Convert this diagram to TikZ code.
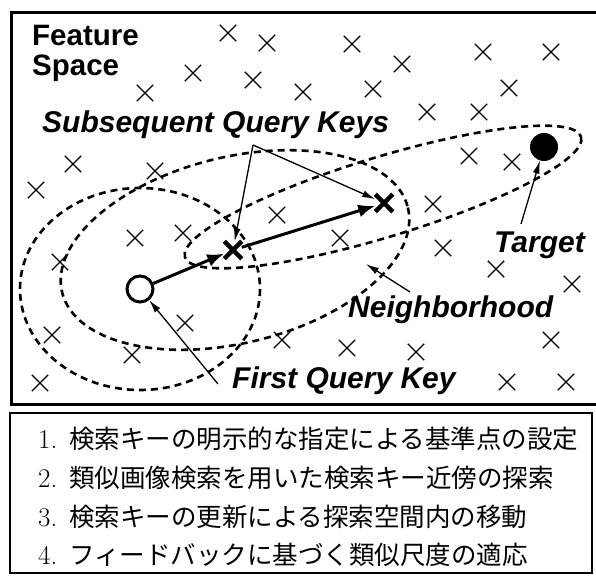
\documentclass[tikz,border=0pt]{standalone}
\usepackage{fontspec}
\usetikzlibrary{arrows.meta,shapes.misc}
\newfontfamily\labfont{Liberation Sans}
\newfontfamily\jpfont{Noto Sans CJK JP}
\begin{document}
\begin{tikzpicture}[x=1pt,y=-1pt,
  pt/.style={cross out,draw,line width=1.3pt,minimum size=15pt,inner sep=0pt},
  keymark/.style={cross out,draw,line width=4.5pt,minimum size=13pt,inner sep=0pt},
  nb/.style={draw,line width=2.6pt,dash pattern=on 7pt off 5pt},
  lab/.style={font=\labfont\bfseries\itshape\fontsize{30}{33}\selectfont,inner sep=0pt,anchor=base west},
  labup/.style={font=\labfont\bfseries\fontsize{29.5}{32}\selectfont,inner sep=0pt,anchor=base west},
  bigarrow/.style={line width=3pt,-{Latex[length=17pt,width=13pt]}},
  thinarrow/.style={line width=1.3pt,-{Latex[length=13pt,width=7pt]}},
  num/.style={font=\fontsize{27}{30}\selectfont,inner sep=0pt,anchor=base west},
  jtext/.style={font=\jpfont\fontsize{25.5}{28}\selectfont,inner sep=0pt,anchor=base west}]
\useasboundingbox (0,0) rectangle (596,577);
% frames
\draw[line width=3pt] (11,13) rectangle (599,404);
\draw[line width=2.5pt] (10,413) rectangle (592,573);
% scattered points
\foreach \a/\b [count=\i] in {228/33,267/43,193/73,253/80,145/93,73/164,155/171,36/190,
  352/44,402/64,483/52,551/52,303/92,373/89,509/88,427/112,479/112,469/156,512/162,433/204,
  277/215,135/238,183/233,60/262,185/323,52/335,282/340,132/355,40/383,
  340/238,443/248,496/269,572/284,551/340,347/348,416/352,507/382,566/382}
  \node[pt] (x\i) at (\a,\b) {};
% neighborhoods
\draw[nb] (140,289) ellipse [x radius=120, y radius=101];
\draw[nb, rotate around={13.8:(235,250)}] (235,250) ellipse [x radius=178, y radius=93];
\draw[nb, rotate around={16.9:(383,197)}] (383,197) ellipse [x radius=207, y radius=40];
% keys
\node[circle,draw,line width=3pt,minimum size=26pt,inner sep=0pt,fill=white] (q0) at (140,289) {};
\node[keymark] (q1) at (233,250) {};
\node[keymark] (q2) at (384,203) {};
\node[circle,fill=black,minimum size=28pt,inner sep=0pt] (tg) at (544,147) {};
% labels
\node[labup] (fs1) at (32,46) {Feature};
\node[labup] (fs2) at (32,76) {Space};
\node[lab] (sqk) at (42,133) {Subsequent Query Keys};
\node[lab] (tl) at (494,252) {Target};
\node[lab] (nl) at (348,317) {Neighborhood};
\node[lab] (fq) at (232,388) {First Query Key};
% connectors
\draw[bigarrow] (q0) -- (q1);
\draw[bigarrow] (q1) -- (q2);
\coordinate (apex) at (253,145);
\draw[thinarrow] (apex) -- (q1);
\draw[thinarrow] (apex) -- (q2);
\coordinate (ta) at (521,224);
\draw[thinarrow] (ta) -- (tg);
\coordinate (na) at (410,292);
\coordinate (nb) at (366,264);
\draw[thinarrow] (na) -- (nb);
\coordinate (fa) at (218,384);
\draw[thinarrow] (fa) -- (q0);
% list
\node[num] (n1) at (38,448) {1.};
\node[jtext] (j1) at (69,448) {検索キーの明示的な指定による基準点の設定};
\node[num] (n2) at (38,487) {2.};
\node[jtext] (j2) at (69,487) {類似画像検索を用いた検索キー近傍の探索};
\node[num] (n3) at (38,526) {3.};
\node[jtext] (j3) at (69,526) {検索キーの更新による探索空間内の移動};
\node[num] (n4) at (38,564) {4.};
\node[jtext] (j4) at (69,564) {フィードバックに基づく類似尺度の適応};
\end{tikzpicture}
\end{document}
